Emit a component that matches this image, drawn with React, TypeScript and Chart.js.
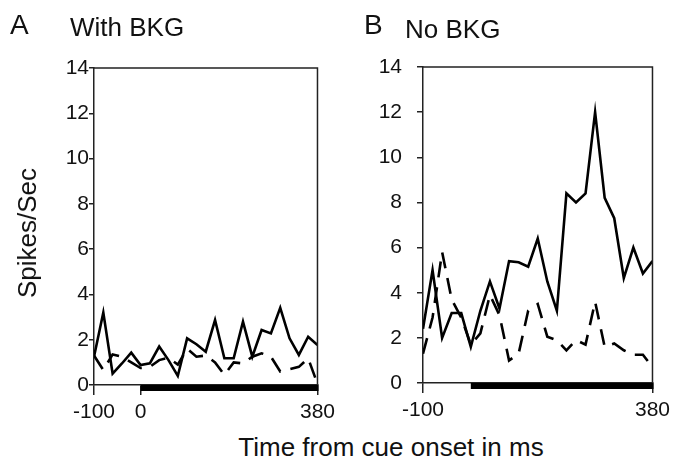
import React, { useEffect, useRef } from "react";
import { Chart, registerables } from "chart.js";

Chart.register(...registerables);

const timeMs = [-100, -80, -60, -40, -20, 0, 20, 40, 60, 80, 100, 120, 140, 160, 180, 200, 220, 240, 260, 280, 300, 320, 340, 360, 380];

const withBkgSolid = [1.25, 3.2, 0.5, 0.95, 1.43, 0.88, 0.96, 1.7, 1.1, 0.4, 2.06, 1.8, 1.47, 2.87, 1.18, 1.18, 2.8, 1.25, 2.43, 2.28, 3.41, 2.06, 1.33, 2.13, 1.77];
const withBkgDashed = [1.3, 0.66, 1.35, 1.25, 1.0, 0.75, 0.8, 1.1, 1.2, 0.9, 1.6, 1.25, 1.3, 1.0, 0.45, 1.0, 0.95, 1.25, 1.4, 1.25, 0.6, 0.7, 0.8, 1.18, 0.05];

const noBkgSolid = [2.4, 5.0, 2.0, 3.1, 3.1, 1.6, 3.2, 4.5, 3.3, 5.4, 5.35, 5.15, 6.4, 4.5, 3.2, 8.4, 8.0, 8.4, 12.0, 8.2, 7.3, 4.65, 6.0, 4.85, 5.4];
const noBkgDashed = [1.3, 2.9, 5.8, 3.7, 2.9, 1.7, 2.2, 3.9, 3.0, 1.0, 1.3, 3.2, 3.5, 2.05, 1.9, 1.45, 1.9, 1.7, 3.6, 1.6, 1.75, 1.45, 1.25, 1.25, 0.7];

const ticksA = [-100, 0, 380];
const ticksB = [-100, 380];
const cueStart = 0;
const cueEnd = 380;

const FONT = "'Liberation Sans', Arial, Helvetica, sans-serif";

const framePlugin = {
  id: "frameAndCue",
  afterDraw(chart: any) {
    const { ctx, chartArea } = chart;
    const xs = chart.scales.x;
    const { left, top, right, bottom } = chartArea;
    ctx.save();
    ctx.strokeStyle = "#222";
    ctx.lineWidth = 1.5;
    ctx.beginPath();
    ctx.moveTo(left, top);
    ctx.lineTo(right, top);
    ctx.lineTo(right, bottom);
    ctx.stroke();
    const x0 = xs.getPixelForValue(cueStart);
    const x1 = xs.getPixelForValue(cueEnd);
    ctx.fillStyle = "#000";
    ctx.fillRect(x0, bottom, x1 - x0 + 1, 6);
    ctx.restore();
  },
};

function makeConfig(solid: number[], dashed: number[], xTicks: number[], o: any) {
  return {
    type: "line",
    data: {
      datasets: [
        {
          data: timeMs.map((t, i) => ({ x: t, y: solid[i] })),
          borderColor: "#000",
          borderWidth: 2.6,
          pointRadius: 0,
          tension: 0,
          fill: false,
        },
        {
          data: timeMs.map((t, i) => ({ x: t, y: dashed[i] })),
          borderColor: "#000",
          borderWidth: 2.6,
          borderDash: [16, 10],
          pointRadius: 0,
          tension: 0,
          fill: false,
        },
      ],
    },
    options: {
      responsive: false,
      animation: false,
      events: [],
      layout: { padding: o.padding },
      plugins: { legend: { display: false }, tooltip: { enabled: false }, title: { display: false } },
      scales: {
        x: {
          type: "linear",
          min: -100,
          max: 380,
          afterBuildTicks: (scale: any) => {
            scale.ticks = xTicks.map((v) => ({ value: v }));
          },
          afterFit: (scale: any) => {
            scale.height = o.xHeight;
          },
          border: { display: true, color: "#222", width: 1.5 },
          grid: { drawOnChartArea: false, drawTicks: true, tickLength: 10, color: "#222", lineWidth: 1.5 },
          ticks: {
            autoSkip: false,
            maxRotation: 0,
            padding: 5,
            color: "#111",
            font: { family: FONT, size: 21 },
            callback: (v: any) => String(v),
          },
        },
        y: {
          min: 0,
          max: 14,
          afterFit: (scale: any) => {
            scale.width = o.yWidth;
          },
          border: { display: true, color: "#222", width: 1.5 },
          grid: { drawOnChartArea: false, drawTicks: true, tickLength: o.yTickLen, color: "#222", lineWidth: 1.5 },
          ticks: {
            stepSize: 2,
            padding: o.yPad,
            color: "#111",
            font: { family: FONT, size: 21 },
          },
        },
      },
    },
    plugins: [framePlugin],
  };
}

function Panel(props: { solid: number[]; dashed: number[]; xTicks: number[]; opts: any; style: any; w: number; h: number }) {
  const ref = useRef<HTMLCanvasElement | null>(null);
  useEffect(() => {
    if (!ref.current) return;
    const chart = new Chart(ref.current, makeConfig(props.solid, props.dashed, props.xTicks, props.opts) as any);
    return () => chart.destroy();
  }, []);
  return <canvas ref={ref} width={props.w} height={props.h} style={{ position: "absolute", ...props.style }} />;
}

const txt = (extra: any) => ({ position: "absolute", fontFamily: FONT, color: "#111", whiteSpace: "nowrap", lineHeight: 1, ...extra });

export default function App() {
  return (
    <div style={{ position: "fixed", left: 0, top: 0, width: 675, height: 470, background: "#fff", overflow: "hidden" }}>
      <Panel
        solid={withBkgSolid}
        dashed={withBkgDashed}
        xTicks={ticksA}
        w={340}
        h={430}
        style={{ left: 0, top: 0 }}
        opts={{ padding: { left: 0, right: 16, top: 68, bottom: 0 }, xHeight: 45, yWidth: 94, yTickLen: 5, yPad: 0 }}
      />
      <Panel
        solid={noBkgSolid}
        dashed={noBkgDashed}
        xTicks={ticksB}
        w={335}
        h={430}
        style={{ left: 340, top: 0 }}
        opts={{ padding: { left: 0, right: 19, top: 67, bottom: 0 }, xHeight: 47, yWidth: 83, yTickLen: 6, yPad: 15 }}
      />
      <div style={txt({ left: 10, top: 11, fontSize: 28 })}>A</div>
      <div style={txt({ left: 70, top: 14, fontSize: 26 })}>With BKG</div>
      <div style={txt({ left: 364, top: 11, fontSize: 28 })}>B</div>
      <div style={txt({ left: 405, top: 16, fontSize: 26 })}>No BKG</div>
      <div style={txt({ left: 27, top: 233, fontSize: 26, transform: "translate(-50%, -50%) rotate(-90deg)" })}>Spikes/Sec</div>
      <div style={txt({ left: 391, top: 447, fontSize: 26, transform: "translate(-50%, -50%)" })}>Time from cue onset in ms</div>
    </div>
  );
}
